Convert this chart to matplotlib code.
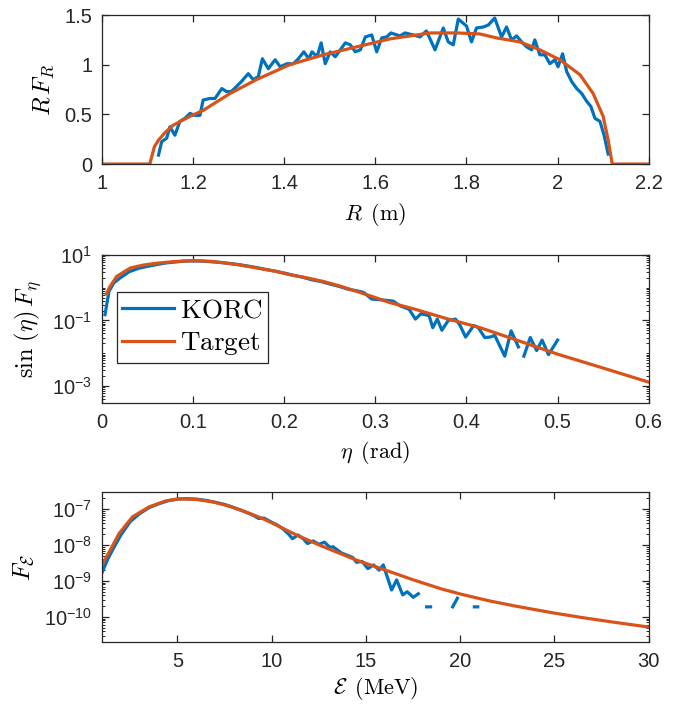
import numpy as np
import matplotlib
matplotlib.use("Agg")
import matplotlib.pyplot as plt
from matplotlib.ticker import FixedLocator, FuncFormatter, LogLocator, NullFormatter

plt.rcParams['font.family'] = ['Liberation Sans', 'DejaVu Sans']
plt.rcParams['mathtext.fontset'] = 'cm'

BLUE = '#0072BD'
ORANGE = '#D95319'
AXC = '#262626'

# ---- radial distribution R F_R ----
R_korc = [1.124, 1.131, 1.142, 1.149, 1.160, 1.171, 1.182, 1.193, 1.204, 1.215,
          1.222, 1.237, 1.248, 1.263, 1.273, 1.284, 1.295, 1.306, 1.321, 1.332,
          1.343, 1.352, 1.365, 1.380, 1.391, 1.406, 1.420, 1.431, 1.443, 1.454,
          1.461, 1.472, 1.481, 1.490, 1.501, 1.512, 1.523, 1.534, 1.545, 1.556,
          1.567, 1.578, 1.592, 1.603, 1.614, 1.625, 1.634, 1.654, 1.665, 1.683,
          1.698, 1.712, 1.731, 1.749, 1.760, 1.771, 1.782, 1.800, 1.811, 1.822,
          1.837, 1.848, 1.862, 1.877, 1.888, 1.899, 1.910, 1.921, 1.932, 1.943,
          1.950, 1.961, 1.972, 1.983, 1.994, 2.001, 2.011, 2.020, 2.031, 2.042,
          2.053, 2.064, 2.073, 2.082, 2.093, 2.102, 2.111]
RF_korc = [0.09, 0.225, 0.26, 0.375, 0.29, 0.43, 0.46, 0.51, 0.49, 0.49,
           0.645, 0.66, 0.66, 0.76, 0.73, 0.73, 0.78, 0.83, 0.91, 0.85,
           0.88, 1.06, 0.96, 1.05, 0.98, 1.01, 1.01, 1.06, 1.13, 1.06,
           1.13, 1.08, 1.22, 1.01, 1.13, 1.08, 1.15, 1.22, 1.20, 1.13,
           1.15, 1.28, 1.30, 1.13, 1.27, 1.28, 1.32, 1.29, 1.32, 1.30,
           1.28, 1.34, 1.15, 1.37, 1.23, 1.20, 1.46, 1.39, 1.23, 1.37,
           1.38, 1.40, 1.47, 1.28, 1.38, 1.25, 1.29, 1.23, 1.18, 1.15,
           1.25, 1.10, 1.10, 1.01, 1.05, 0.98, 1.11, 0.93, 0.83, 0.76,
           0.71, 0.63, 0.58, 0.46, 0.43, 0.29, 0.10]
R_target = [1.0, 1.105, 1.115, 1.124, 1.138, 1.156, 1.193, 1.222, 1.281, 1.339,
            1.412, 1.486, 1.559, 1.632, 1.72, 1.78, 1.829, 1.866, 1.917, 1.961,
            2.005, 2.049, 2.078, 2.10, 2.111, 2.12, 2.2]
RF_target = [0.0, 0.0, 0.175, 0.24, 0.315, 0.39, 0.48, 0.54, 0.71, 0.85,
             1.0, 1.10, 1.18, 1.26, 1.32, 1.32, 1.31, 1.27, 1.23, 1.15,
             1.05, 0.90, 0.71, 0.48, 0.24, 0.0, 0.0]

# ---- pitch-angle distribution sin(eta) F_eta ----
eta_korc = [0.0033, 0.0077, 0.013, 0.02, 0.03, 0.04, 0.05, 0.06, 0.07, 0.08,
            0.09, 0.10, 0.11, 0.12, 0.13, 0.14, 0.15, 0.16, 0.17, 0.18,
            0.19, 0.20, 0.21, 0.22, 0.23, 0.24, 0.25, 0.26, 0.27, 0.28,
            0.287, 0.296, 0.305, 0.3195, 0.327, 0.337, 0.344, 0.350, 0.359, 0.363,
            0.368, 0.373, 0.380, 0.388, 0.393, 0.399, 0.408, 0.413, 0.420, 0.426,
            0.431, 0.442, 0.449, 0.457, 0.460, 0.463, 0.470, 0.477, 0.483, 0.490,
            0.500]
Feta_korc = [0.15, 0.78, 1.4, 2.0, 3.1, 3.9, 4.5, 5.1, 5.7, 6.1,
             6.5, 6.6, 6.5, 6.2, 5.9, 5.5, 5.1, 4.6, 4.1, 3.6,
             3.2, 2.8, 2.4, 2.1, 1.75, 1.55, 1.3, 1.1, 0.9, 0.8,
             0.72, 0.45, 0.43, 0.39, 0.28, 0.22, 0.11, 0.16, 0.14, 0.06,
             0.11, 0.05, 0.10, 0.11, 0.07, 0.031, 0.07, 0.06, 0.030, 0.031,
             0.035, 0.0081, 0.048, 0.0155, np.nan, 0.0081, 0.03, 0.012, 0.025, 0.009,
             0.025]
eta_target = [0.005, 0.008, 0.016, 0.031, 0.045, 0.060, 0.08, 0.100, 0.12, 0.133,
              0.15, 0.170, 0.19, 0.206, 0.225, 0.243, 0.26, 0.279, 0.30, 0.316,
              0.341, 0.38, 0.415, 0.45, 0.50, 0.55, 0.6]
Feta_target = [0.65, 1.0, 2.2, 4.0, 4.9, 5.6, 6.3, 6.7, 6.4, 5.8,
               5.0, 4.0, 3.2, 2.5, 2.0, 1.55, 1.15, 0.78, 0.5, 0.35,
               0.23, 0.11, 0.06, 0.028, 0.0093, 0.0035, 0.0013]

# ---- energy distribution F_E ----
E_korc = [1.0, 1.3, 1.6, 2.0, 2.5, 3.0, 3.5, 4.0, 4.5, 5.0,
          5.5, 6.0, 6.5, 7.0, 7.5, 8.0, 8.5, 9.0, 9.3, 9.6,
          10.0, 10.3, 10.6, 10.9, 11.1, 11.4, 11.7, 11.9, 12.2, 12.5,
          12.8, 13.1, 13.25, 13.7, 14.0, 14.3, 14.5, 14.8, 15.1, 15.4,
          15.7, 15.92, 16.13, 16.36, 16.63, 16.95, 17.19, 17.51, 17.78, 18.0,
          18.22, 18.43, 19.0, 19.6, 19.85, 20.3, 20.75, 20.93]
FE_korc = [1.7e-9, 4.0e-9, 8.0e-9, 1.9e-8, 4.5e-8, 7.5e-8, 1.1e-7, 1.4e-7, 1.7e-7, 1.9e-7,
           1.95e-7, 1.9e-7, 1.75e-7, 1.55e-7, 1.35e-7, 1.1e-7, 8.8e-8, 6.8e-8, 5.5e-8, 5.6e-8,
           4.3e-8, 3.6e-8, 2.8e-8, 2.0e-8, 1.5e-8, 1.9e-8, 1.45e-8, 1.1e-8, 1.3e-8, 1.05e-8,
           1.2e-8, 8.5e-9, 9.0e-9, 6.0e-9, 5.2e-9, 4.5e-9, 3.3e-9, 3.5e-9, 2.2e-9, 2.8e-9,
           2.0e-9, 2.8e-9, 1.3e-9, 5.6e-10, 1.07e-9, 4.1e-10, 5.0e-10, 3.5e-10, 4.4e-10, np.nan,
           1.9e-10, 1.9e-10, np.nan, 1.9e-10, 3.3e-10, np.nan, 1.9e-10, 1.9e-10]
E_target = [1.0, 1.38, 1.91, 2.62, 3.51, 4.40, 5.1, 5.99, 6.87, 7.77,
            8.83, 9.5, 10.07, 11.31, 12.73, 14.5, 16.28, 17.52, 19.0, 20.05,
            21.5, 22.84, 24.0, 25.05, 26.5, 28.15, 30.0]
FE_target = [2.8e-9, 6.4e-9, 2.1e-8, 6.1e-8, 1.16e-7, 1.7e-7, 1.93e-7, 1.86e-7, 1.59e-7, 1.2e-7,
             7.6e-8, 5.5e-8, 4.0e-8, 1.9e-8, 9.0e-9, 3.8e-9, 1.8e-9, 1.07e-9, 6.0e-10, 4.27e-10,
             2.82e-10, 2.04e-10, 1.58e-10, 1.26e-10, 9.5e-11, 7.1e-11, 5.2e-11]

LW = 2.3
TICK_FS = 14.5
XLABEL_FS = 16
YLABEL_FS = 17.5


def log_label(v, pos):
    if v <= 0:
        return ''
    e = int(round(np.log10(v)))
    return r'$\mathregular{10^{%d}}$' % e


def style(ax):
    for s in ax.spines.values():
        s.set_color(AXC)
        s.set_linewidth(0.9)
    ax.tick_params(which='both', direction='in', top=True, right=True,
                   colors=AXC, labelsize=TICK_FS, pad=7)
    ax.tick_params(which='major', length=5, width=0.9)
    ax.tick_params(which='minor', length=2.5, width=0.7)


fig = plt.figure(figsize=(6.8, 7.04), dpi=100)
ax1 = fig.add_axes([0.150, 0.767, 0.804, 0.2116])
ax2 = fig.add_axes([0.150, 0.4276, 0.804, 0.2102])
ax3 = fig.add_axes([0.150, 0.0881, 0.804, 0.2131])

# top panel
ax1.plot(R_korc, RF_korc, color=BLUE, lw=LW)
ax1.plot(R_target, RF_target, color=ORANGE, lw=LW)
ax1.set_xlim(1, 2.2)
ax1.set_ylim(0, 1.5)
ax1.xaxis.set_major_locator(FixedLocator([1, 1.2, 1.4, 1.6, 1.8, 2, 2.2]))
ax1.yaxis.set_major_locator(FixedLocator([0, 0.5, 1, 1.5]))
ax1.xaxis.set_major_formatter(FuncFormatter(lambda v, p: '%g' % v))
ax1.yaxis.set_major_formatter(FuncFormatter(lambda v, p: '%g' % v))
ax1.set_xlabel(r'$R\enspace(\mathrm{m})$', fontsize=XLABEL_FS, labelpad=6)
ax1.set_ylabel(r'$R\,F_R$', fontsize=YLABEL_FS, labelpad=6)
style(ax1)

# middle panel
ax2.plot(eta_korc, Feta_korc, color=BLUE, lw=LW, label=r'$\mathrm{KORC}$')
ax2.plot(eta_target, Feta_target, color=ORANGE, lw=LW, label=r'$\mathrm{Target}$')
ax2.set_yscale('log')
ax2.set_xlim(0, 0.6)
ax2.set_ylim(3e-4, 10)
ax2.xaxis.set_major_locator(FixedLocator([0, 0.1, 0.2, 0.3, 0.4, 0.5, 0.6]))
ax2.xaxis.set_major_formatter(FuncFormatter(lambda v, p: '%g' % v))
ax2.yaxis.set_major_locator(FixedLocator([1e-3, 1e-1, 1e1]))
ax2.yaxis.set_major_formatter(FuncFormatter(log_label))
ax2.yaxis.set_minor_locator(LogLocator(base=10, subs=np.arange(1, 10), numticks=50))
ax2.yaxis.set_minor_formatter(NullFormatter())
ax2.set_xlabel(r'$\eta\enspace(\mathrm{rad})$', fontsize=XLABEL_FS, labelpad=5)
ax2.set_ylabel(r'$\sin\,(\eta)\,F_\eta$', fontsize=YLABEL_FS, labelpad=6)
style(ax2)
leg = ax2.legend(loc='upper left', bbox_to_anchor=(0.027, 0.75), borderaxespad=0,
                 fontsize=19.5, fancybox=False, framealpha=1, edgecolor=AXC,
                 handlelength=1.9, handletextpad=0.25, labelspacing=0.25,
                 borderpad=0.2)
leg.get_frame().set_linewidth(0.9)

# bottom panel
ax3.plot(E_korc, FE_korc, color=BLUE, lw=LW)
ax3.plot(E_target, FE_target, color=ORANGE, lw=LW)
ax3.set_yscale('log')
ax3.set_xlim(1, 30)
ax3.set_ylim(2e-11, 3e-7)
ax3.xaxis.set_major_locator(FixedLocator([5, 10, 15, 20, 25, 30]))
ax3.xaxis.set_major_formatter(FuncFormatter(lambda v, p: '%g' % v))
ax3.yaxis.set_major_locator(FixedLocator([1e-10, 1e-9, 1e-8, 1e-7]))
ax3.yaxis.set_major_formatter(FuncFormatter(log_label))
ax3.yaxis.set_minor_locator(LogLocator(base=10, subs=np.arange(1, 10), numticks=50))
ax3.yaxis.set_minor_formatter(NullFormatter())
ax3.set_xlabel(r'$\mathcal{E}\enspace(\mathrm{MeV})$', fontsize=XLABEL_FS, labelpad=3)
ax3.set_ylabel(r'$F_\mathcal{E}$', fontsize=YLABEL_FS, labelpad=6)
style(ax3)

fig.savefig('out.png', dpi=100)
